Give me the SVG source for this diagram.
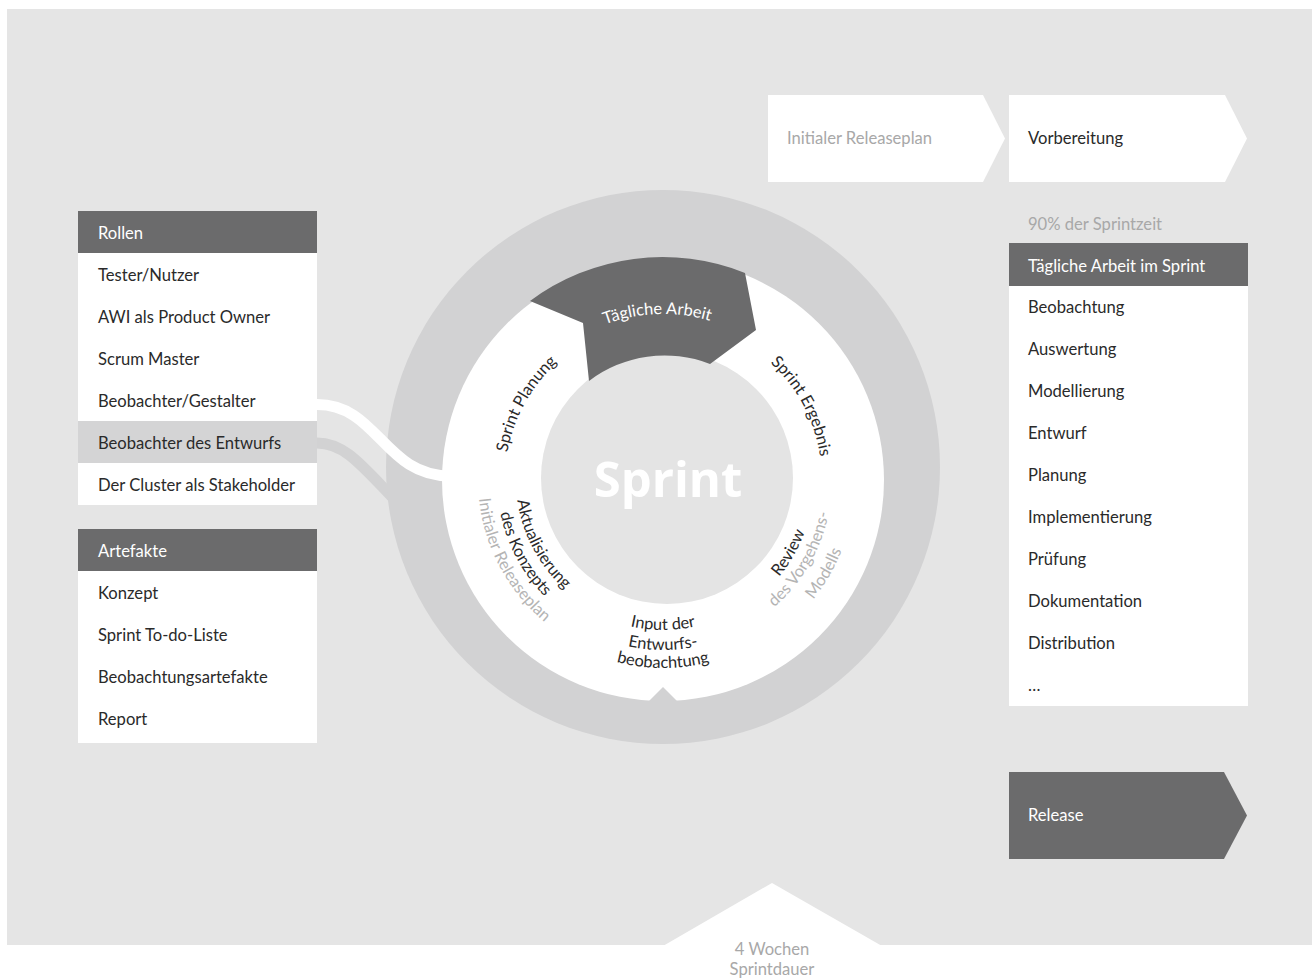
<svg xmlns="http://www.w3.org/2000/svg" width="1312" height="979" viewBox="0 0 1312 979">
<style>
text{font-family:Lato,"Liberation Sans",sans-serif;font-size:16.6px;fill:#2a2a2a}
.w{fill:#ffffff}
.g{fill:#a8a8a8}
.gc{fill:#b4b4b4}
.c{font-size:16.4px}
.big{font-family:"Open Sans","Liberation Sans",sans-serif;font-weight:bold;font-size:49px;fill:#ffffff}
.hdr{fill:#6b6b6c}
.row{fill:#ffffff}
</style>
<defs>
<path id="pTA" d="M532.2,377.8 A166,166 0 0 1 786.4,368.9"/>
<path id="pSP" d="M515.5,536.6 A158,158 0 0 1 632.9,324.9"/>
<path id="pSE" d="M696.1,324.5 A159,159 0 0 1 810.4,539.6"/>
<path id="pB1" d="M548.1,576.4 A150,150 0 0 0 777.9,576.4"/>
<path id="pB2" d="M532.8,589.3 A170,170 0 0 0 793.2,589.3"/>
<path id="pB3" d="M519.0,600.8 A188,188 0 0 0 807.0,600.8"/>
<path id="pL1" d="M532.0,413.3 A147,147 0 0 0 645.1,625.9"/>
<path id="pL2" d="M515.1,404.6 A166,166 0 0 0 642.8,644.8"/>
<path id="pL3" d="M498.2,396.0 A185,185 0 0 0 640.4,663.6"/>
<path id="pR1" d="M676.2,630.4 A151,151 0 0 0 799.9,416.2"/>
<path id="pR2" d="M677.7,648.4 A169,169 0 0 0 816.2,408.6"/>
<path id="pR3" d="M679.7,671.3 A192,192 0 0 0 837.0,398.9"/>
</defs>
<rect x="0" y="0" width="1312" height="979" fill="#ffffff"/>
<rect x="7" y="9" width="1305" height="936" fill="#e5e5e5"/>
<g id="duration">
<polygon points="663,946 772,883 882,946" fill="#ffffff"/>
<text class="g" x="772" y="955" text-anchor="middle" font-size="15">4 Wochen</text>
<text class="g" x="772" y="975" text-anchor="middle" font-size="15">Sprintdauer</text>
</g>
<g id="connectors" fill="none" stroke-linecap="butt">
<path d="M317,443 C345,443 362,466 397,502" stroke="#d2d2d3" stroke-width="11"/>
</g>
<g id="sprint-cycle">
<circle cx="663" cy="467" r="277" fill="#d2d2d3"/>
<path d="M317,404.5 C378,404.5 384,476 450,476" fill="none" stroke="#ffffff" stroke-width="11"/>
<circle cx="663" cy="480" r="221" fill="#ffffff"/>
<polygon points="648,702 663,687 678,702" fill="#d2d2d3"/>
<circle cx="667" cy="478" r="126" fill="#e4e4e4"/>
<text class="big" x="668" y="497" text-anchor="middle">Sprint</text>
</g>
<g id="taegliche-arbeit">
<path d="M530,301 A222,222 0 0 1 745,273 L756,330 L710,364 A125,125 0 0 0 589,381 L583,323 Z" fill="#6b6b6c"/>
<text class="w c" font-size="15.5"><textPath href="#pTA" startOffset="50%" text-anchor="middle">Tägliche Arbeit</textPath></text>
</g>
<g id="sprint-planung">
<text class="c"><textPath href="#pSP" startOffset="50%" text-anchor="middle">Sprint Planung</textPath></text>
</g>
<g id="sprint-ergebnis">
<text class="c"><textPath href="#pSE" startOffset="50%" text-anchor="middle">Sprint Ergebnis</textPath></text>
</g>
<g id="input-entwurf">
<text class="c"><textPath href="#pB1" startOffset="50%" text-anchor="middle">Input der</textPath></text>
<text class="c"><textPath href="#pB2" startOffset="50%" text-anchor="middle">Entwurfs-</textPath></text>
<text class="c"><textPath href="#pB3" startOffset="50%" text-anchor="middle">beobachtung</textPath></text>
</g>
<g id="aktualisierung">
<text class="c"><textPath href="#pL1" startOffset="50%" text-anchor="middle">Aktualisierung</textPath></text>
<text class="c"><textPath href="#pL2" startOffset="50%" text-anchor="middle">des Konzepts</textPath></text>
<text class="c gc"><textPath href="#pL3" startOffset="50%" text-anchor="middle">Initialer Releaseplan</textPath></text>
</g>
<g id="review">
<text class="c"><textPath href="#pR1" startOffset="50%" text-anchor="middle">Review</textPath></text>
<text class="c gc"><textPath href="#pR2" startOffset="50%" text-anchor="middle">des Vorgehens-</textPath></text>
<text class="c gc"><textPath href="#pR3" startOffset="50%" text-anchor="middle">Modells</textPath></text>
</g>
<g id="rollen">
<rect class="hdr" x="78" y="211" width="239" height="42"/>
<rect class="row" x="78" y="253" width="239" height="252"/>
<rect x="78" y="421" width="239" height="42" fill="#d4d4d5"/>
<text class="w" x="98" y="239">Rollen</text>
<text x="98" y="281">Tester/Nutzer</text>
<text x="98" y="323">AWI als Product Owner</text>
<text x="98" y="365">Scrum Master</text>
<text x="98" y="407">Beobachter/Gestalter</text>
<text x="98" y="449">Beobachter des Entwurfs</text>
<text x="98" y="491">Der Cluster als Stakeholder</text>
</g>
<g id="artefakte">
<rect class="hdr" x="78" y="529" width="239" height="42"/>
<rect class="row" x="78" y="571" width="239" height="172"/>
<text class="w" x="98" y="557">Artefakte</text>
<text x="98" y="599">Konzept</text>
<text x="98" y="641">Sprint To-do-Liste</text>
<text x="98" y="683">Beobachtungsartefakte</text>
<text x="98" y="725">Report</text>
</g>
<g id="initialer-releaseplan">
<polygon points="768,95 983,95 1005,138.5 983,182 768,182" fill="#ffffff"/>
<text class="g" x="787" y="144">Initialer Releaseplan</text>
</g>
<g id="vorbereitung">
<polygon points="1009,95 1225,95 1247,138.5 1225,182 1009,182" fill="#ffffff"/>
<text x="1028" y="144">Vorbereitung</text>
</g>
<g id="taegliche-arbeit-sprint">
<text class="g" x="1028" y="230">90% der Sprintzeit</text>
<rect class="hdr" x="1009" y="243" width="239" height="43"/>
<rect class="row" x="1009" y="286" width="239" height="420"/>
<text class="w" x="1028" y="272">Tägliche Arbeit im Sprint</text>
<text x="1028" y="313">Beobachtung</text>
<text x="1028" y="355">Auswertung</text>
<text x="1028" y="397">Modellierung</text>
<text x="1028" y="439">Entwurf</text>
<text x="1028" y="481">Planung</text>
<text x="1028" y="523">Implementierung</text>
<text x="1028" y="565">Prüfung</text>
<text x="1028" y="607">Dokumentation</text>
<text x="1028" y="649">Distribution</text>
<text x="1028" y="691">…</text>
</g>
<g id="release">
<polygon points="1009,772 1224,772 1247,815.5 1224,859 1009,859" fill="#6b6b6c"/>
<text class="w" x="1028" y="821">Release</text>
</g>
</svg>
